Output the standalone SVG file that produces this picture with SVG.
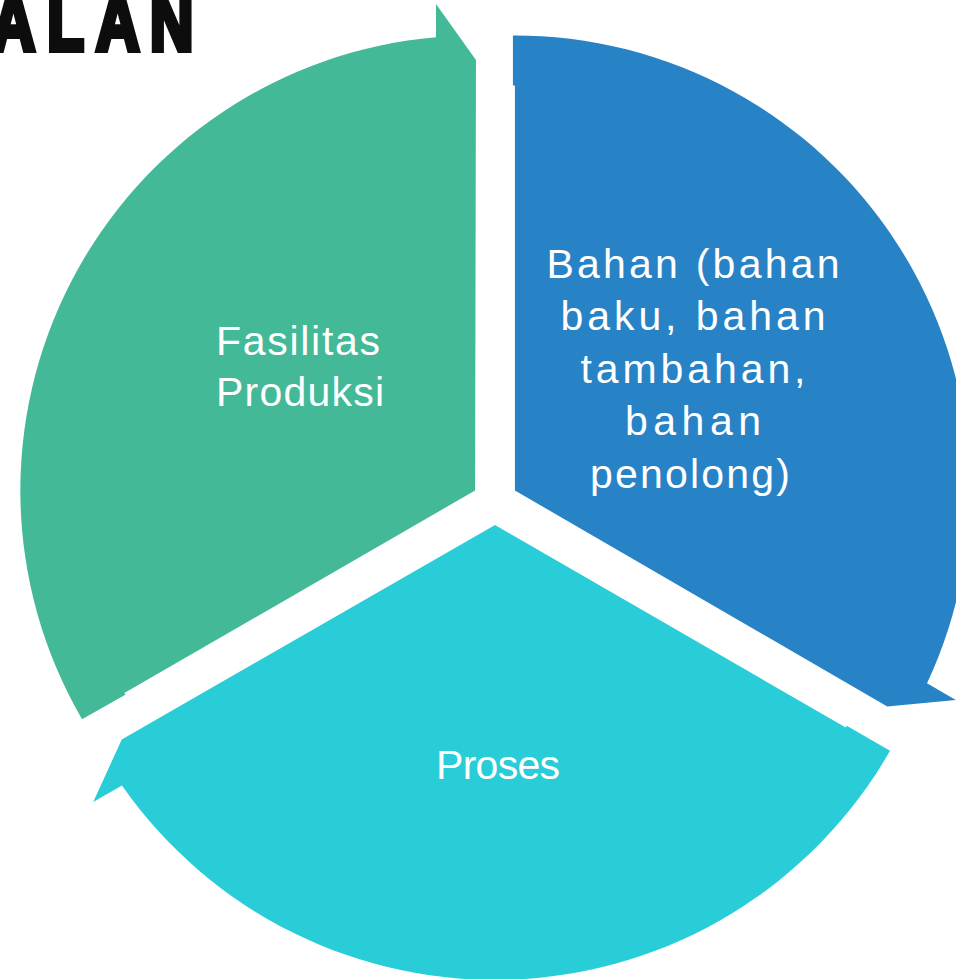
<svg xmlns="http://www.w3.org/2000/svg" width="956" height="979" viewBox="0 0 956 979">
  <style>
    .label { font-family: "Liberation Sans", Arial, sans-serif; font-size: 41px; fill: #ffffff; text-anchor: middle; }
    .title { font-family: "Liberation Sans", Arial, sans-serif; font-size: 80px; font-weight: bold; fill: #0d0d0d; stroke: #0d0d0d; stroke-width: 6; stroke-linejoin: miter; }
  </style>
  <rect width="956" height="979" fill="#ffffff"/>

  <!-- heading fragment, condensed -->
  <g id="heading" transform="scale(0.75,1)">
    <text class="title" x="-11 63 128 200" y="50">ALAN</text>
  </g>

  <!-- segmented cycle: three offset pie wedges, each ending in an arrowhead -->
  <g id="node-fasilitas">
    <path fill="#44b997" d="M475.08,490.5 L124.34,693 L125.34,694.73 L82.04,719.23 A455,455 0 0 1 435.98,37.18 L436,4 L475.98,60 Z"/>
    <text class="label" x="298" y="355" textLength="164">Fasilitas</text>
    <text class="label" x="300" y="406" textLength="168">Produksi</text>
  </g>

  <g id="node-bahan">
    <path fill="#2883c6" d="M514.92,490.5 L514.92,85.5 L512.92,85.5 L512.92,35.5 A455,455 0 0 1 927.05,683.3 L955.77,699.91 L887.28,706.53 Z"/>
    <text class="label" x="693" y="278" textLength="293">Bahan (bahan</text>
    <text class="label" x="693" y="330" textLength="265">baku, bahan</text>
    <text class="label" x="693" y="383" textLength="225">tambahan,</text>
    <text class="label" x="693" y="435" textLength="136">bahan</text>
    <text class="label" x="690" y="488" textLength="200">penolong)</text>
  </g>

  <g id="node-proses">
    <path fill="#28cdd8" d="M495,525 L845.74,727.49 L846.73,725.76 L890.03,750.75 A455,455 0 0 1 121.97,785.52 L93.23,802.09 L121.74,739.47 Z"/>
    <text class="label" x="498" y="779" textLength="124">Proses</text>
  </g>
</svg>
